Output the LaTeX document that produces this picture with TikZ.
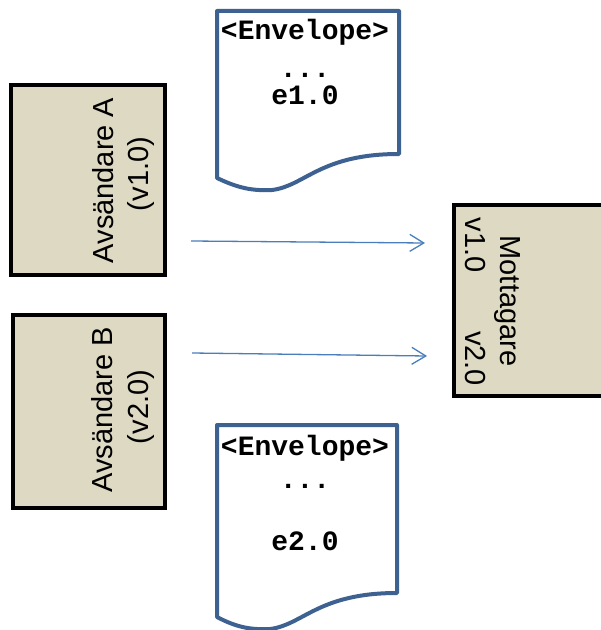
\documentclass[tikz,border=0pt]{standalone}
\usepackage{fontspec}
\setmainfont{Liberation Sans}
\newfontfamily\codefont{Liberation Mono}
\usetikzlibrary{arrows.meta}
\definecolor{boxfill}{HTML}{DDD9C3}
\definecolor{docblue}{HTML}{3D6191}
\definecolor{arrowblue}{HTML}{4A7EBB}
\begin{document}
\begin{tikzpicture}[x=1bp,y=-1bp,
  actor/.style={draw=black, line width=4bp, fill=boxfill, rectangle, inner sep=0pt, outer sep=0pt},
  docpage/.style={draw=docblue, line width=4bp, fill=white, line join=round},
  lbl/.style={font=\fontsize{29bp}{33bp}\selectfont, inner sep=0pt},
  code/.style={font=\codefont\bfseries\fontsize{28bp}{32bp}\selectfont, inner sep=0pt, anchor=base},
  msg/.style={draw=arrowblue, line width=1.3bp, -{Straight Barb[length=14bp,width=17bp,line width=1.3bp]}}]
\clip (0,0) rectangle (601,630);
\useasboundingbox (0,0) rectangle (601,630);

% senders
\node[actor, minimum width=154bp, minimum height=190bp] (sendA) at (88,180) {};
\node[actor, minimum width=152bp, minimum height=193bp] (sendB) at (89,411.5) {};
\node[lbl, rotate=90, anchor=base] (sendAname) at (113,180.5) {Avsändare A};
\node[lbl, rotate=90, anchor=base] (sendAver) at (148,174) {(v1.0)};
\node[lbl, rotate=90, anchor=base] (sendBname) at (112,410) {Avsändare B};
\node[lbl, rotate=90, anchor=base] (sendBver) at (148,407) {(v2.0)};

% receiver (runs off the right edge)
\node[actor, anchor=north west, minimum width=190bp, minimum height=191bp] (recv) at (454,205) {};
\node[lbl, rotate=-90, anchor=base] (recvname) at (500,301) {Mottagare};
\node[lbl, rotate=-90, anchor=base] (recvv1) at (465,245) {v1.0};
\node[lbl, rotate=-90, anchor=base] (recvv2) at (465,358.5) {v2.0};

% message documents
\draw[docpage] (217,11) -- (399,11) -- (399,154)
  .. controls (320,154) and (305,186) .. (272,190)
  .. controls (252,191) and (238,188) .. (217,178) -- cycle;
\draw[docpage] (217,425) -- (397,425) -- (397,593)
  .. controls (318,593) and (303,625) .. (270,629)
  .. controls (250,630) and (236,627) .. (217,617) -- cycle;

\node[code] (env1) at (305,40) {<Envelope>};
\node[code] (dots1) at (305,78) {...};
\node[code] (ver1) at (305,105) {e1.0};
\node[code] (env2) at (305,455) {<Envelope>};
\node[code] (dots2) at (305,488) {...};
\node[code] (ver2) at (305,550) {e2.0};

% message flows
\coordinate (m1s) at (191,241);
\coordinate (m1e) at (425,243);
\coordinate (m2s) at (192,353);
\coordinate (m2e) at (427,356);
\draw[msg] (m1s) -- (m1e);
\draw[msg] (m2s) -- (m2e);
\end{tikzpicture}
\end{document}
